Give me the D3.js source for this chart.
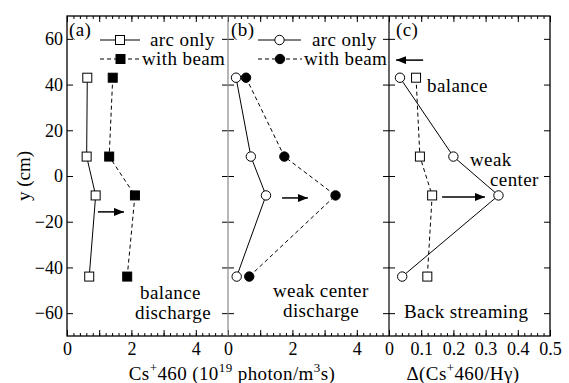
<!DOCTYPE html>
<html><head><meta charset="utf-8">
<script src="https://cdn.jsdelivr.net/npm/d3@7"></script>
<style>body{margin:0;background:#fff}svg{display:block}</style>
</head><body><svg id="c" width="569" height="383"></svg>
<script>
// ---- data ----
const yPositions = [43, 8.5, -8.5, -44];            // cm
const arcOnlyA   = [0.63, 0.61, 0.89, 0.69];       // panel (a) open squares
const withBeamA  = [1.42, 1.31, 2.11, 1.87];       // panel (a) filled squares
const arcOnlyB   = [0.25, 0.71, 1.18, 0.27];       // panel (b) open circles
const withBeamB  = [0.56, 1.75, 3.34, 0.66];       // panel (b) filled circles
const balanceC   = [0.084, 0.096, 0.134, 0.119];   // panel (c) squares, dashed
const weakCenterC= [0.034, 0.20, 0.34, 0.041];     // panel (c) circles, solid
const yTickValues = [-60, -40, -20, 0, 20, 40, 60];
const xTickLabelsAB = [0, 2, 4];
const xTickLabelsC = [0, 0.1, 0.2, 0.3, 0.4, 0.5];
const arrowsA = [[0.96, 1.77, -15.7]];
const arrowsB = [[1.68, 2.48, -9.6]];
const arrowsC = [[0.106, 0.022, 50.7], [0.165, 0.298, -9.2]];

const FONT = "'Liberation Serif', Tinos, 'Times New Roman', Times, 'Nimbus Roman', 'DejaVu Serif', serif";

// ---- layout ----
const svg = d3.select("#c");
const plotTop = 16, plotBottom = 336;
const y = d3.scaleLinear().domain([-70, 70]).range([plotBottom, plotTop]);
const xa = d3.scaleLinear().domain([0, 5]).range([67, 228]);
const xb = d3.scaleLinear().domain([0, 5]).range([228, 389]);
const xc = d3.scaleLinear().domain([0, 0.5]).range([389, 550]);

svg.append("defs").append("marker").attr("id", "ah")
  .attr("viewBox", "0 0 10 8").attr("refX", 10).attr("refY", 4)
  .attr("markerWidth", 10).attr("markerHeight", 8).attr("markerUnits", "userSpaceOnUse")
  .attr("orient", "auto")
  .append("path").attr("d", "M0,0L10,4L0,8Z").attr("fill", "#000");

function panel(x, majorStep, minorStep, labels, fmt, showYLabels) {
  const [d0, d1] = x.domain();
  const major = d3.range(d0, d1 + 1e-9, majorStep);
  const minor = d3.range(d0, d1 + 1e-9, minorStep);
  const g = svg.append("g");
  g.append("g").attr("transform", `translate(0,${plotBottom})`)
    .call(d3.axisBottom(x).tickValues(minor).tickSize(-3).tickFormat(""));
  g.append("g").attr("transform", `translate(0,${plotBottom})`)
    .call(d3.axisBottom(x).tickValues(major).tickSize(-6).tickFormat(""));
  g.append("g").attr("transform", `translate(0,${plotBottom})`)
    .call(d3.axisBottom(x).tickValues(labels).tickSize(0).tickPadding(6).tickFormat(fmt));
  g.append("g").attr("transform", `translate(0,${plotTop})`)
    .call(d3.axisTop(x).tickValues(minor).tickSize(-3).tickFormat(""));
  g.append("g").attr("transform", `translate(0,${plotTop})`)
    .call(d3.axisTop(x).tickValues(major).tickSize(-6).tickFormat(""));
  const left = d3.axisLeft(y).tickValues(yTickValues).tickSize(-6).tickPadding(4);
  if (!showYLabels) left.tickFormat("");
  g.append("g").attr("transform", `translate(${x.range()[0]},0)`).call(left);
  g.append("g").attr("transform", `translate(${x.range()[1]},0)`)
    .call(d3.axisRight(y).tickValues(yTickValues).tickSize(-6).tickFormat(""));
  g.selectAll(".domain").remove();
  g.selectAll("g").attr("font-family", null);
  g.selectAll("line").attr("stroke", "#000").attr("stroke-width", 1);
  g.selectAll("text").attr("font-size", 18).style("font-family", FONT).attr("fill", "#000");
  return g;
}
panel(xa, 1, 0.2, xTickLabelsAB, d3.format("d"), true);
panel(xb, 1, 0.2, xTickLabelsAB, d3.format("d"), false);
panel(xc, 0.1, 0.02, xTickLabelsC, v => v === 0 ? "0" : d3.format(".1f")(v), false);

// frame
svg.append("rect").attr("x", 67).attr("y", plotTop).attr("width", 483).attr("height", plotBottom - plotTop)
  .attr("fill", "none").attr("stroke", "#000").attr("stroke-width", 1.3);
svg.append("line").attr("x1", 228).attr("x2", 228).attr("y1", plotTop).attr("y2", plotBottom)
  .attr("stroke", "#888").attr("stroke-width", 1.2);
svg.append("line").attr("x1", 389).attr("x2", 389).attr("y1", plotTop).attr("y2", plotBottom)
  .attr("stroke", "#000").attr("stroke-width", 1.2);

function marker(pts, shape, filled) {
  pts.forEach(([px, py]) => {
    if (shape === "sq") svg.append("rect").attr("x", px - 4.5).attr("y", py - 4.5).attr("width", 9).attr("height", 9)
      .attr("fill", filled ? "#000" : "#fff").attr("stroke", "#000").attr("stroke-width", 1);
    else svg.append("circle").attr("cx", px).attr("cy", py).attr("r", 4.7)
      .attr("fill", filled ? "#000" : "#fff").attr("stroke", "#000").attr("stroke-width", 1);
  });
}
function series(x, vals, dashed, shape, filled) {
  const pts = vals.map((v, i) => [x(v), y(yPositions[i])]);
  svg.append("path").attr("d", d3.line()(pts)).attr("fill", "none").attr("stroke", "#000")
    .attr("stroke-width", 1).attr("stroke-dasharray", dashed ? "4,3" : null);
  marker(pts, shape, filled);
}
series(xa, arcOnlyA, false, "sq", false);
series(xa, withBeamA, true, "sq", true);
series(xb, arcOnlyB, false, "ci", false);
series(xb, withBeamB, true, "ci", true);
series(xc, balanceC, true, "sq", false);
series(xc, weakCenterC, false, "ci", false);

function arrows(x, list) {
  list.forEach(([a, b, yy]) => svg.append("line").attr("x1", x(a)).attr("x2", x(b))
    .attr("y1", y(yy)).attr("y2", y(yy)).attr("stroke", "#000").attr("stroke-width", 1.5)
    .attr("marker-end", "url(#ah)"));
}
arrows(xa, arrowsA); arrows(xb, arrowsB); arrows(xc, arrowsC);

function txt(x, yy, s, size = 19, anchor = "start") {
  return svg.append("text").attr("x", x).attr("y", yy).attr("font-size", size)
    .style("font-family", FONT).attr("text-anchor", anchor).attr("letter-spacing", 0.4).text(s);
}
function legend(x1, x2, yy, dashed, shape, filled, label, tx) {
  svg.append("line").attr("x1", x1).attr("x2", x2).attr("y1", yy).attr("y2", yy)
    .attr("stroke", "#000").attr("stroke-width", 1).attr("stroke-dasharray", dashed ? "4,3" : null);
  marker([[(x1 + x2) / 2, yy]], shape, filled);
  txt(tx, yy + 6, label);
}
legend(100, 140, 40, false, "sq", false, "arc only", 150);
legend(100, 141, 59, true, "sq", true, "with beam", 142);
legend(258, 301, 40, false, "ci", false, "arc only", 312);
legend(258, 302, 59, true, "ci", true, "with beam", 304);

txt(69, 36, "(a)");
txt(231, 36, "(b)");
txt(396, 36, "(c)");
txt(140, 299, "balance");
txt(135, 319, "discharge");
txt(273, 297, "weak center");
txt(283, 317, "discharge");
txt(427, 92, "balance");
txt(470, 166, "weak");
txt(490, 186, "center");
txt(404, 318, "Back streaming");

const t1 = txt(232, 380, "", 19, "middle");
t1.append("tspan").text("Cs");
t1.append("tspan").attr("dy", -8).attr("font-size", 13).text("+");
t1.append("tspan").attr("dy", 8).text("460 (10");
t1.append("tspan").attr("dy", -8).attr("font-size", 13).text("19");
t1.append("tspan").attr("dy", 8).text(" photon/m");
t1.append("tspan").attr("dy", -8).attr("font-size", 13).text("3");
t1.append("tspan").attr("dy", 8).text("s)");

const t2 = txt(463, 380, "", 19, "middle");
t2.append("tspan").text("Δ(Cs");
t2.append("tspan").attr("dy", -8).attr("font-size", 13).text("+");
t2.append("tspan").attr("dy", 8).text("460/Hγ)");

svg.append("text").attr("transform", "translate(30,176) rotate(-90)").attr("font-size", 19)
  .style("font-family", FONT).attr("text-anchor", "middle").text("y (cm)");
</script></body></html>
